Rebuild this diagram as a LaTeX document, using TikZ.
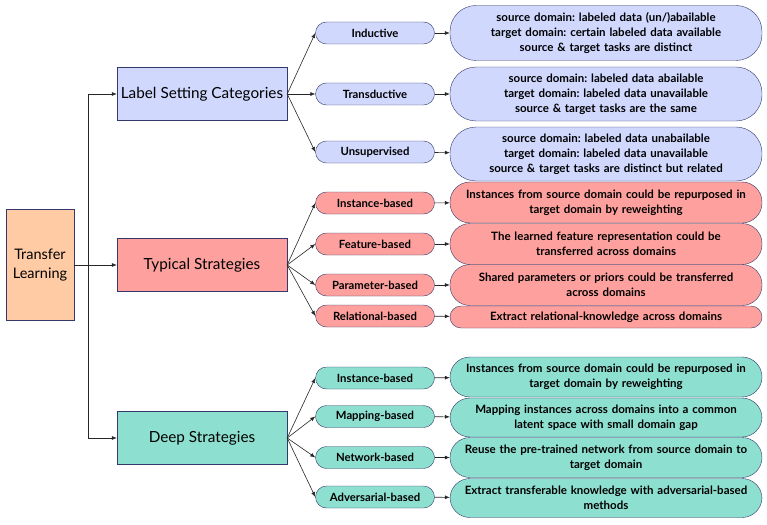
\documentclass[tikz,border=0pt]{standalone}
\usepackage{fontspec}
\setmainfont{Lato}
\frenchspacing
\usetikzlibrary{arrows.meta}

\definecolor{peach}{HTML}{FFCBA4}
\definecolor{lav}{HTML}{D0D8FE}
\definecolor{salmon}{HTML}{FEA19E}
\definecolor{teal}{HTML}{8DDFD0}
\definecolor{edge}{HTML}{34386A}

\tikzset{
  arr/.style={-{Latex[length=5pt,width=4pt]}, draw=black!85, line width=0.6pt},
  root/.style={draw=edge, fill=peach, minimum width=68pt, minimum height=111pt, align=center, font=\fontsize{14.5}{19}\selectfont},
  cat/.style={draw=edge, minimum width=170pt, minimum height=53pt, font=\fontsize{15.3}{17}\selectfont},
  leaf/.style={draw=edge, rounded corners=11pt, minimum width=119pt, minimum height=22pt, inner sep=1pt, font=\bfseries\fontsize{11.3}{12}\selectfont},
  desc/.style={draw=edge, rounded corners=#1, text width=308pt, inner xsep=2pt, inner ysep=1pt, align=center, font=\bfseries\fontsize{11.5}{15}\selectfont}
}

\begin{document}
\begin{tikzpicture}[x=1pt, y=-1pt]
\useasboundingbox (0,0) rectangle (767,524);

\node[root] (tl) at (40,265) {Transfer\\Learning};
\node[cat, fill=lav] (lsc) at (202,94) {Label Setting Categories};
\node[cat, fill=salmon] (typ) at (202,265) {Typical Strategies};
\node[cat, fill=teal] (deep) at (202,438) {Deep Strategies};

\coordinate (sp) at (88,265);
\draw[arr] (tl.east) -- (typ.west);
\draw[arr] (sp) |- (lsc.west);
\draw[arr] (sp) |- (deep.west);

% label setting
\foreach \n/\y/\t in {1/33/Inductive, 2/94/Transductive, 3/152/Unsupervised}
  \node[leaf, fill=lav] (L\n) at (375,\y) {\t};
\node[desc=26pt, fill=lav, minimum height=55pt] (LD1) at (606,33) {source domain: labeled data (un/)abailable\\target domain: certain labeled data available\\source \& target tasks are distinct};
\node[desc=26pt, fill=lav, minimum height=54pt] (LD2) at (606,94) {source domain: labeled data abailable\\target domain: labeled data unavailable\\source \& target tasks are the same};
\node[desc=26pt, fill=lav, minimum height=54pt] (LD3) at (606,154) {source domain: labeled data unabailable\\target domain: labeled data unavailable\\source \& target tasks are distinct but related};

% typical
\foreach \n/\y/\t in {1/203/Instance-based, 2/244/Feature-based, 3/285/Parameter-based, 4/316/Relational-based}
  \node[leaf, fill=salmon] (T\n) at (375,\y) {\t};
\node[desc=20pt, fill=salmon, minimum height=41pt] (TD1) at (606,202.5) {Instances from source domain could be repurposed in\\target domain by reweighting};
\node[desc=20pt, fill=salmon, minimum height=41pt] (TD2) at (606,244) {The learned feature representation could be\\transferred across domains};
\node[desc=20pt, fill=salmon, minimum height=41pt] (TD3) at (606,285) {Shared parameters or priors could be transferred\\across domains};
\node[desc=11pt, fill=salmon, minimum height=22pt] (TD4) at (606,317) {Extract relational-knowledge across domains};

% deep
\foreach \n/\y/\t in {1/378/Instance-based, 2/416.5/Mapping-based, 3/457.5/Network-based, 4/497/Adversarial-based}
  \node[leaf, fill=teal] (D\n) at (375,\y) {\t};
\node[desc=20pt, fill=teal, minimum height=40pt] (DD1) at (606,377) {Instances from source domain could be repurposed in\\target domain by reweighting};
\node[desc=20pt, fill=teal, minimum height=39pt] (DD2) at (606,417.5) {Mapping instances across domains into a common\\latent space with small domain gap};
\node[desc=20pt, fill=teal, minimum height=40pt] (DD3) at (606,457.5) {Reuse the pre-trained network from source domain to\\target domain};
\node[desc=20pt, fill=teal, minimum height=39pt] (DD4) at (606,498) {Extract transferable knowledge with adversarial-based\\methods};

\foreach \n in {1,2,3} {
  \draw[arr] (lsc.east) -- (L\n.west);
  \draw[arr] (L\n) -- (LD\n);
}
\foreach \n in {1,...,4} {
  \draw[arr] (typ.east) -- (T\n.west);
  \draw[arr] (T\n) -- (TD\n);
  \draw[arr] (deep.east) -- (D\n.west);
  \draw[arr] (D\n) -- (DD\n);
}
\end{tikzpicture}
\end{document}
